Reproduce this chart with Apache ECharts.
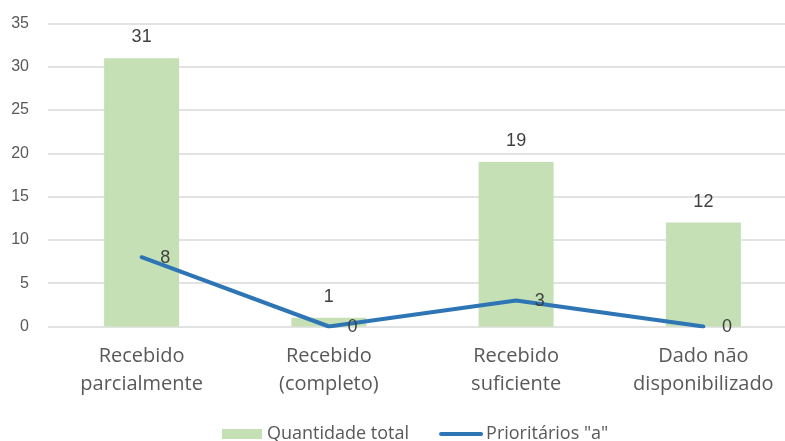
<!DOCTYPE html>
<html>
<head>
<meta charset="utf-8">
<script src="https://cdn.jsdelivr.net/npm/echarts@6/dist/echarts.min.js"></script>
<style>
  html, body { margin: 0; padding: 0; background: #ffffff; }
  #chart { width: 785px; height: 441px; }
</style>
</head>
<body>
<div id="chart"></div>
<script>
// Situação do recebimento
const categories = ['Recebido\nparcialmente', 'Recebido\n(completo)', 'Recebido\nsuficiente', 'Dado não\ndisponibilizado'];
const quantidadeTotal = [31, 1, 19, 12];
const prioritariosA = [8, 0, 3, 0];
const yTicks = { min: 0, max: 35, interval: 5 };

const textColor = '#595959';
const labelColor = '#404040';
const lineColor = '#2e75b6';

const chart = echarts.init(document.getElementById('chart'), null, { renderer: 'canvas' });

chart.setOption({
  animation: false,
  backgroundColor: '#ffffff',
  textStyle: { fontFamily: 'Liberation Sans, Arial, sans-serif' },
  // the plot runs a little past the right edge of the canvas
  grid: { left: 48, top: 23.5, width: 749, height: 303, containLabel: false, outerBoundsMode: 'none' },
  legend: {
    left: 217,
    top: 420,
    itemGap: 30,
    itemWidth: 40,
    itemHeight: 10,
    textStyle: { color: textColor, fontSize: 18, fontFamily: 'Open Sans, sans-serif' },
    data: [
      { name: 'Quantidade total', icon: 'rect' },
      {
        name: 'Prioritários "a"',
        itemStyle: { color: 'rgba(0,0,0,0)', borderWidth: 0 },
        lineStyle: { color: lineColor, width: 4 }
      }
    ]
  },
  xAxis: {
    type: 'category',
    data: categories,
    axisLine: { show: false },
    axisTick: { show: false },
    axisLabel: {
      color: textColor,
      fontSize: 20,
      lineHeight: 28,
      margin: 16,
      fontFamily: 'Open Sans, sans-serif'
    }
  },
  yAxis: {
    type: 'value',
    min: yTicks.min,
    max: yTicks.max,
    interval: yTicks.interval,
    axisLine: { show: false },
    axisTick: { show: false },
    axisLabel: { color: textColor, fontSize: 16, margin: 19 },
    splitLine: { lineStyle: { color: '#d9d9d9', width: 1.5 } }
  },
  series: [
    {
      name: 'Quantidade total',
      type: 'bar',
      data: quantidadeTotal,
      barWidth: 75,
      itemStyle: { color: '#c5e0b4' },
      label: {
        show: true,
        position: 'top',
        distance: 12,
        color: labelColor,
        fontSize: 18
      }
    },
    {
      name: 'Prioritários "a"',
      type: 'line',
      data: prioritariosA,
      symbol: 'circle',
      symbolSize: 1,
      showSymbol: true,
      lineStyle: { color: lineColor, width: 4, cap: 'round', join: 'round' },
      itemStyle: { color: lineColor },
      label: {
        show: true,
        position: 'right',
        distance: 18,
        offset: [0, 1],
        color: labelColor,
        fontSize: 18
      }
    }
  ]
});
</script>
</body>
</html>
